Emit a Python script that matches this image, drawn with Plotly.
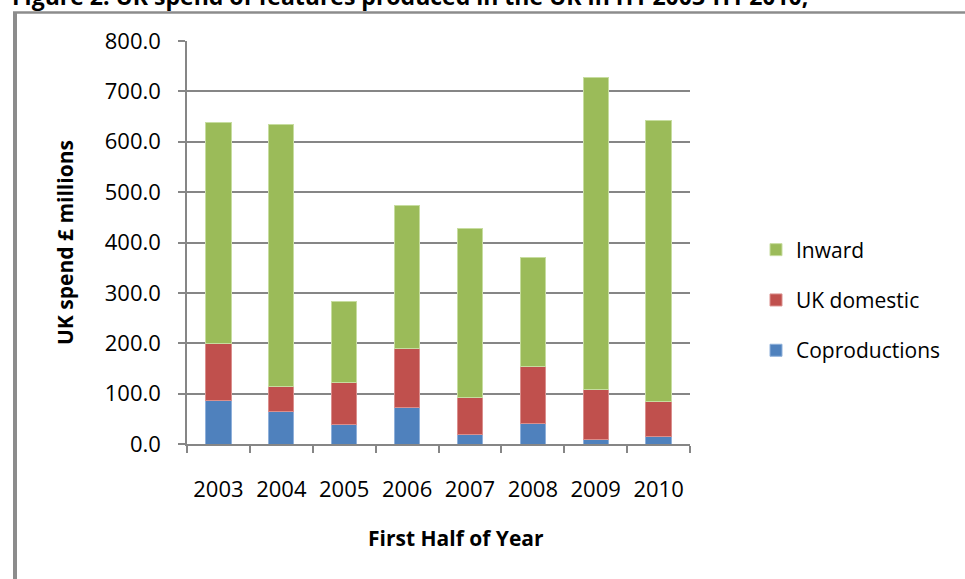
import plotly.graph_objects as go

years = ["2003", "2004", "2005", "2006", "2007", "2008", "2009", "2010"]
coproductions = [85.4, 65.5, 39.0, 73.4, 18.5, 40.3, 8.5, 15.0]
uk_domestic = [113.6, 48.3, 83.4, 115.2, 74.8, 113.7, 100.0, 69.6]
inward = [440.0, 521.2, 159.6, 284.4, 333.7, 217.0, 618.2, 557.9]

series_names = ["Coproductions", "UK domestic", "Inward"]
series_colors = ["#4F81BD", "#C0504D", "#9BBB59"]
series_edges = ["#8FB0DA", "#DA8F8D", "#C7DDA0"]
legend_ranks = [3, 2, 1]

W_FIG, H_FIG = 965, 579
L, R, T, B = 187, 275, 41, 135
PW = W_FIG - L - R
PH = H_FIG - T - B


def px_x(px):
    return (px - L) / PW


def px_y(py):
    return (H_FIG - B - py) / PH


FONT = "Open Sans"
fig = go.Figure()
for name, vals, col, edge, rank in zip(series_names, [coproductions, uk_domestic, inward],
                                       series_colors, series_edges, legend_ranks):
    fig.add_trace(go.Bar(
        x=years, y=vals, name=name, legendgroup=name, legendrank=rank,
        marker=dict(color=col, line=dict(color=edge, width=1)),
    ))

fig.update_layout(
    width=W_FIG, height=H_FIG,
    margin=dict(l=L, r=R, t=T, b=B, pad=0),
    barmode="stack", bargap=0.6,
    plot_bgcolor="white", paper_bgcolor="white",
    font=dict(family=FONT, color="black", size=22),
    showlegend=True,
    legend=dict(
        x=px_x(756), xanchor="left", y=px_y(300), yanchor="middle",
        traceorder="grouped", tracegroupgap=20,
        font=dict(family=FONT, size=21, color="black"),
        bgcolor="rgba(0,0,0,0)",
    ),
    xaxis=dict(
        type="category", showline=True, linecolor="#868686", linewidth=1.5,
        ticks="outside", tickson="boundaries", ticklen=7, tickcolor="#868686", tickwidth=1.5,
        showgrid=False, tickfont=dict(family=FONT, size=22, color="black"),
        ticklabelstandoff=25,
    ),
    yaxis=dict(
        range=[0, 800], tickvals=[0, 100, 200, 300, 400, 500, 600, 700, 800],
        tickformat=".1f", showline=True, linecolor="#868686", linewidth=1.5,
        ticks="outside", ticklen=7, tickcolor="#868686", tickwidth=1.5,
        showgrid=True, gridcolor="#868686", gridwidth=1.5, zeroline=False,
        tickfont=dict(family=FONT, size=22, color="black"),
        ticklabelstandoff=13,
    ),
)

fig.add_annotation(
    text="<b>UK spend £ millions</b>", textangle=-90,
    xref="paper", yref="paper", x=px_x(65), y=px_y(243),
    xanchor="center", yanchor="middle", showarrow=False,
    font=dict(family=FONT, size=21, color="black"),
)
fig.add_annotation(
    text="<b>First Half of Year</b>",
    xref="paper", yref="paper", x=px_x(456), y=px_y(538),
    xanchor="center", yanchor="middle", showarrow=False,
    font=dict(family=FONT, size=21, color="black"),
)
fig.add_annotation(
    text="<b>Figure 2: UK spend of features produced in the UK in H1 2003-H1 2010,</b>",
    xref="paper", yref="paper", x=px_x(10), y=px_y(-4),
    xanchor="left", yanchor="middle", showarrow=False,
    font=dict(family=FONT, size=23, color="black"),
)

# chart-area border (left and top edges visible)
fig.add_shape(type="line", xref="paper", yref="paper",
              x0=px_x(15), x1=px_x(15), y0=px_y(12), y1=px_y(585),
              line=dict(color="#8C8C8C", width=4))
fig.add_shape(type="line", xref="paper", yref="paper",
              x0=px_x(13), x1=px_x(970), y0=px_y(12.5), y1=px_y(12.5),
              line=dict(color="#8C8C8C", width=2.5))

fig.write_html("out.html")
